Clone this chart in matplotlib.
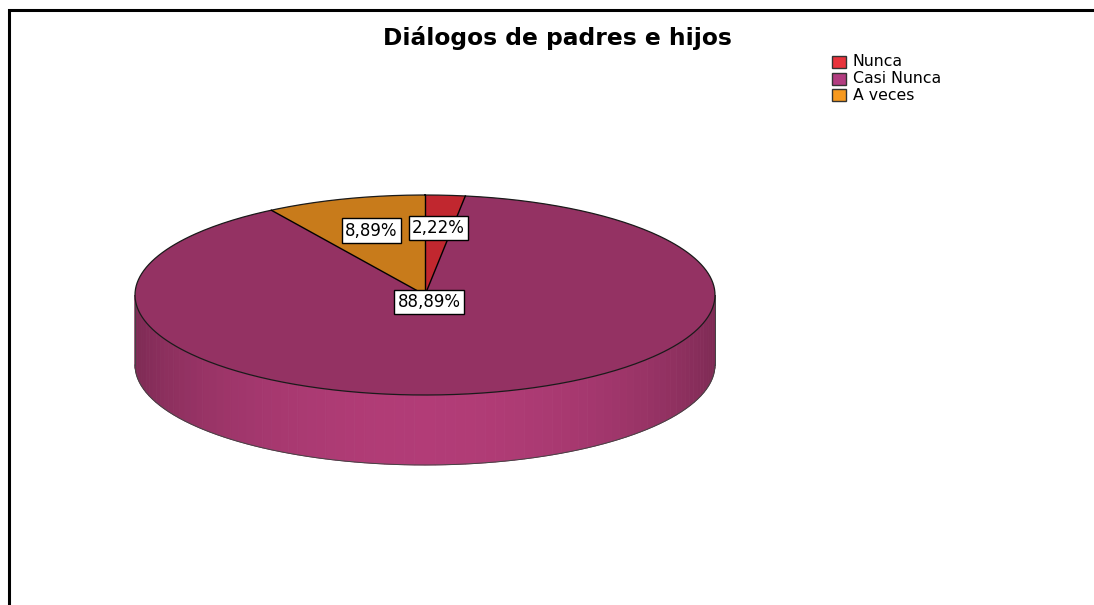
import numpy as np
import matplotlib
matplotlib.use("Agg")
import matplotlib.pyplot as plt
from matplotlib.patches import Polygon, Rectangle

# data
categorias = ["Nunca", "Casi Nunca", "A veces"]
porcentajes = [2.22, 88.89, 8.89]
etiquetas = ["2,22%", "88,89%", "8,89%"]
titulo = "Diálogos de padres e hijos"

# colours: top face and legend swatch
col_top = ["#c1272f", "#943263", "#c87b1b"]
col_leg = ["#e8333c", "#b23c80", "#f7991e"]

# layout in pixels
W, H = 1094, 605
cx, cy = 425, 295      # centre of top face
a, b = 290, 100        # ellipse semi axes
depth = 70
lab_r = [0.67, 0.07, 0.67]

fig = plt.figure(figsize=(W / 100, H / 100), dpi=100, facecolor="white")
ax = fig.add_axes([0, 0, 1, 1])
ax.set_xlim(0, W)
ax.set_ylim(H, 0)
ax.set_axis_off()


def pt(t, r=1.0, dy=0.0):
    # t in degrees, clockwise from 12 o'clock
    t = np.radians(t)
    return cx + a * r * np.sin(t), cy - b * r * np.cos(t) + dy


vals = np.array(porcentajes, dtype=float)
bounds = np.concatenate([[0], np.cumsum(vals) / vals.sum() * 360])

# --- side wall (front half only, t between 90 and 270) ---
for i in range(len(vals)):
    t0, t1 = max(bounds[i], 90), min(bounds[i + 1], 270)
    if t1 <= t0:
        continue
    base = np.array(matplotlib.colors.to_rgb(col_top[i]))
    n = max(int((t1 - t0) / 2), 1)
    ts = np.linspace(t0, t1, n + 1)
    for k in range(n):
        tm = 0.5 * (ts[k] + ts[k + 1])
        f = 0.84 + 0.36 * np.sin(np.radians(tm - 90)) ** 1.5
        c = np.clip(base * f, 0, 1)
        p1, p2 = pt(ts[k]), pt(ts[k + 1])
        poly = [p1, p2, (p2[0], p2[1] + depth), (p1[0], p1[1] + depth)]
        ax.add_patch(Polygon(poly, closed=True, facecolor=c, edgecolor=c,
                             linewidth=0.6, zorder=2))

# side outline
tt = np.linspace(90, 270, 200)
bx, by = zip(*[pt(t, dy=depth) for t in tt])
ax.plot(bx, by, color="#444444", lw=0.7, zorder=3)
for t in (90, 270):
    x0, y0 = pt(t)
    ax.plot([x0, x0], [y0, y0 + depth], color="#444444", lw=0.7, zorder=3)

# --- top face ---
for i in range(len(vals)):
    ts = np.linspace(bounds[i], bounds[i + 1], max(int(bounds[i + 1] - bounds[i]), 2) + 1)
    poly = [(cx, cy)] + [pt(t) for t in ts]
    ax.add_patch(Polygon(poly, closed=True, facecolor=col_top[i],
                         edgecolor="none", zorder=4))

tt = np.linspace(0, 360, 400)
ex, ey = zip(*[pt(t) for t in tt])
ax.plot(ex, ey, color="#1a1a1a", lw=0.9, zorder=5)
for t in bounds[:-1]:
    x1, y1 = pt(t)
    ax.plot([cx, x1], [cy, y1], color="black", lw=1.0, zorder=5)

# --- value labels ---
for i in range(len(vals)):
    tm = 0.5 * (bounds[i] + bounds[i + 1])
    x, y = pt(tm, r=lab_r[i])
    ax.text(x, y, etiquetas[i], ha="center", va="center", fontsize=12,
            family="DejaVu Sans", color="black", zorder=7,
            bbox=dict(boxstyle="square,pad=0.2", facecolor="white",
                      edgecolor="black", linewidth=1.0))

# --- title ---
ax.text(557, 38, titulo, ha="center", va="center", fontsize=16.8,
        fontweight="bold", family="DejaVu Sans", color="black")

# --- legend ---
for i, cat in enumerate(categorias):
    y = 62 + i * 16.5
    ax.add_patch(Rectangle((832, y - 6), 14, 12, facecolor=col_leg[i],
                           edgecolor="#333333", linewidth=1.0, zorder=6))
    ax.text(853, y, cat, ha="left", va="center", fontsize=11.3,
            family="DejaVu Sans", color="black")

# --- frame ---
ax.plot([9, 9, W], [H, 10, 10], color="black", lw=2.2, solid_joinstyle="miter",
        zorder=8)

fig.savefig("out.png", dpi=100, facecolor="white")
